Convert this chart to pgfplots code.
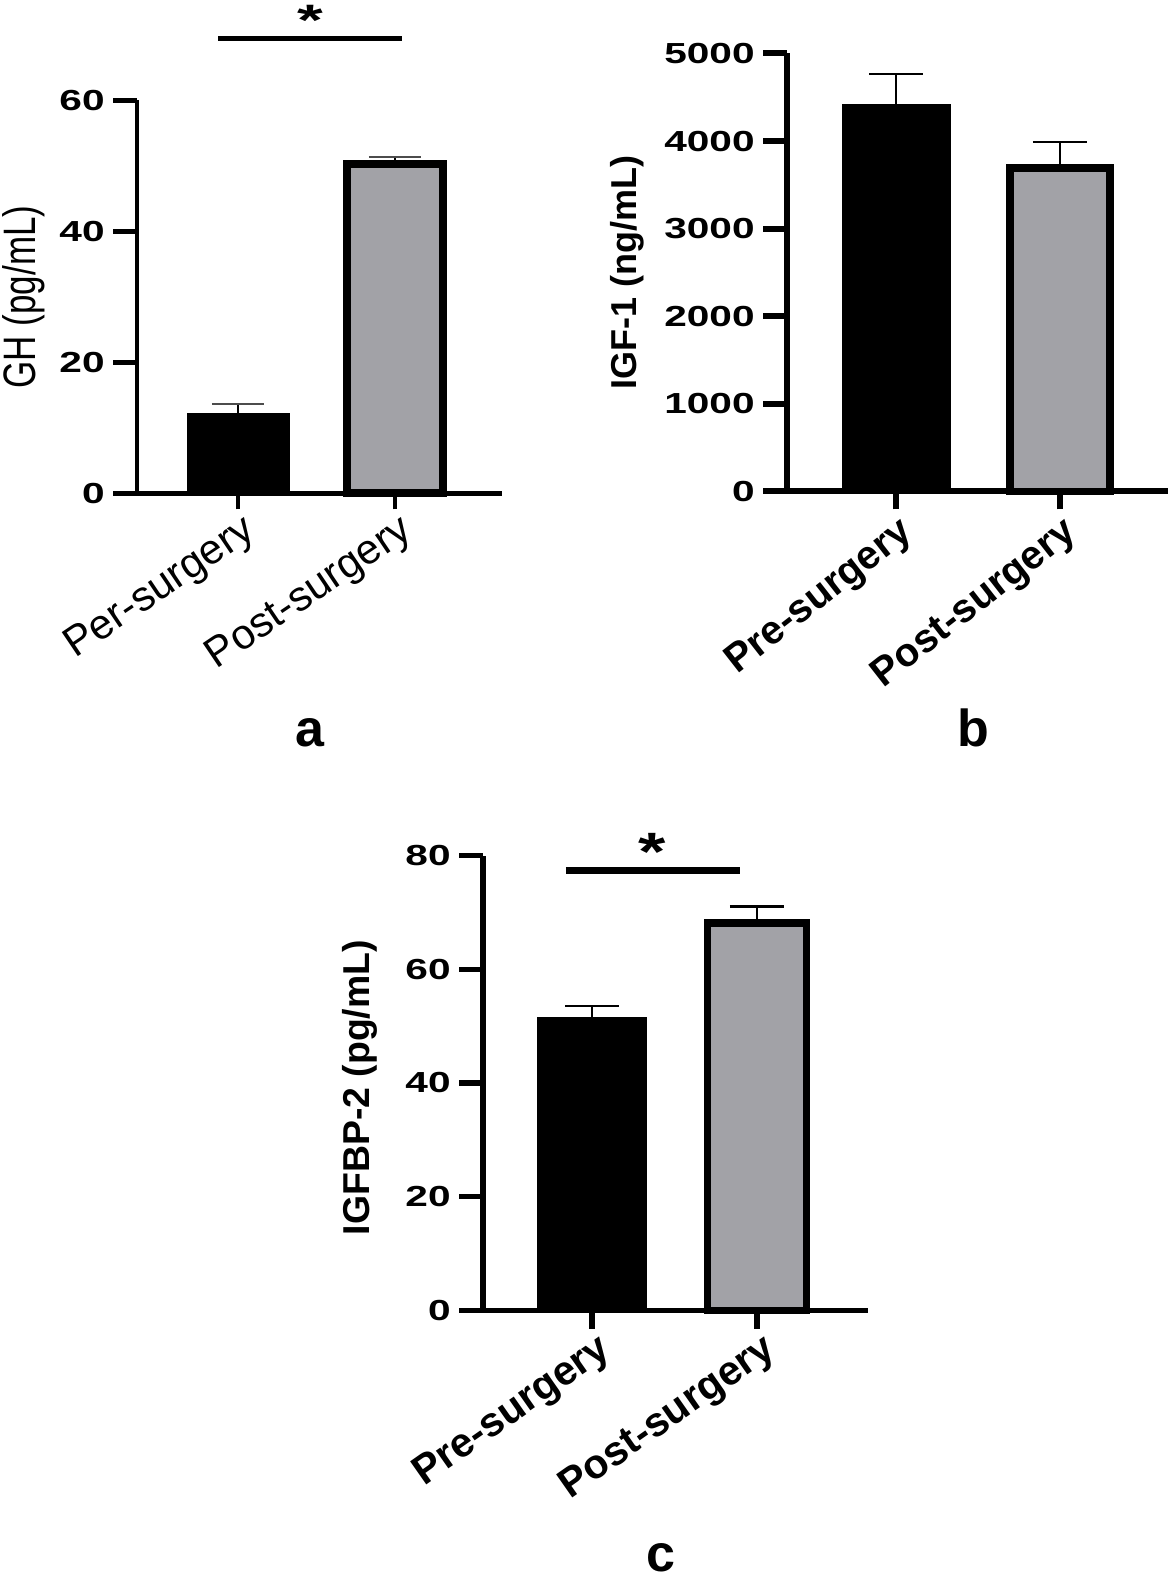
\documentclass[border=0pt]{standalone}
\usepackage{fontspec}
\setmainfont{Liberation Sans}
\newfontfamily\stretchfont[FakeStretch=1.4]{Liberation Sans}
\usepackage{graphicx}
\usepackage{pgfplots}
\pgfplotsset{compat=1.18}
\definecolor{bargray}{RGB}{162,162,167}

\pgfplotsset{
  panel/.style={
    scale only axis,
    anchor=south west,
    axis x line*=bottom,
    axis y line*=left,
    tick align=outside,
    xtick={0,1},
    ybar,
    bar shift=0pt,
    clip=false,
    ymin=0,
    scaled y ticks=false,
    /pgf/number format/1000 sep={},
    /pgf/number format/assume math mode=true,
    yticklabel style={font=\fontsize{14.5}{14.5}\stretchfont\bfseries, inner sep=1pt, xshift=-3pt},
    major tick length=12pt,
    xtick style={/pgfplots/major tick length=9pt},
    every axis y label/.append style={anchor=center},
  },
}

\begin{document}
\begin{tikzpicture}
\path[use as bounding box] (0,0) rectangle (586.5pt,789.5pt);

% ---------------- panel a ----------------
\begin{axis}[panel,
  at={(68.5pt,542.75pt)},
  width=182.5pt, height=196.5pt,
  xmin=-0.643, xmax=1.682, ymax=60,
  ytick={0,20,40,60},
  xticklabels={Per-surgery,Post-surgery},
  xticklabel style={font=\fontsize{21}{21}\selectfont, rotate=34, anchor=east, inner sep=2pt, xshift=5pt, yshift=-8pt},
  axis line style={line width=2.2pt},
  tick style={line width=2.2pt, black},
  xtick style={/pgfplots/major tick length=8pt},
  ylabel={\scalebox{1}[1.3]{GH (pg/mL)}},
  ylabel style={font=\fontsize{17.5}{17.5}\selectfont, at={(axis description cs:-0.31,0.5)}},
]
\addplot[fill=black, draw=black, line width=0.4pt, bar width=0.65,
  error bars/.cd, y dir=plus, y explicit,
  error bar style={line width=1.1pt, black},
  error mark options={rotate=90, line width=1.1pt, mark size=13pt, black!70}]
  coordinates {(0,12.3) +- (0,1.35)};
\addplot[fill=bargray, draw=black, line width=4pt, bar width=0.611,
  error bars/.cd, y dir=plus, y explicit,
  error bar style={line width=1.1pt, black},
  error mark options={rotate=90, line width=1.1pt, mark size=13pt, black!70}]
  coordinates {(1,50.25) +- (0,1.1)};
\draw[line width=2.5pt] (axis cs:-0.127,69.4) -- (axis cs:1.045,69.4);
\node[anchor=base, inner sep=0pt, font=\fontsize{22}{22}\selectfont\bfseries] at (axis cs:0.459,69.85) {\scalebox{1.5}[1]{*}};
\end{axis}

% ---------------- panel b ----------------
\begin{axis}[panel,
  at={(393.5pt,543.75pt)},
  width=190.5pt, height=219pt,
  xmin=-0.665, xmax=1.659, ymax=5000,
  ytick={0,1000,2000,3000,4000,5000},
  xticklabels={Pre-surgery,Post-surgery},
  xticklabel style={font=\fontsize{20}{20}\selectfont\bfseries, rotate=38, anchor=east, inner sep=2pt, xshift=3pt, yshift=-9pt},
  axis line style={line width=3pt},
  tick style={line width=3pt, black},
  ylabel={IGF-1 (ng/mL)},
  ylabel style={font=\fontsize{18}{18}\selectfont\bfseries, at={(axis description cs:-0.42,0.5)}},
]
\addplot[fill=black, draw=black, line width=0.4pt, bar width=0.659,
  error bars/.cd, y dir=plus, y explicit,
  error bar style={line width=1.2pt, black},
  error mark options={rotate=90, line width=1.2pt, mark size=13.5pt, black}]
  coordinates {(0,4421) +- (0,342)};
\addplot[fill=bargray, draw=black, line width=3.75pt, bar width=0.61,
  error bars/.cd, y dir=plus, y explicit,
  error bar style={line width=1.2pt, black},
  error mark options={rotate=90, line width=1.2pt, mark size=13.5pt, black}]
  coordinates {(1,3691) +- (0,300)};
\end{axis}

% ---------------- panel c ----------------
\begin{axis}[panel,
  at={(241.5pt,134.25pt)},
  width=192.5pt, height=227.5pt,
  xmin=-0.661, xmax=1.673, ymax=80,
  ytick={0,20,40,60,80},
  xticklabels={Pre-surgery,Post-surgery},
  xticklabel style={font=\fontsize{20.5}{20.5}\selectfont\bfseries, rotate=35, anchor=east, inner sep=2pt, xshift=5pt, yshift=-9pt},
  axis line style={line width=2.6pt},
  tick style={line width=2.6pt, black},
  ylabel={IGFBP-2 (pg/mL)},
  ylabel style={font=\fontsize{18.7}{18.7}\selectfont\bfseries, at={(axis description cs:-0.32,0.49)}},
]
\addplot[fill=black, draw=black, line width=0.4pt, bar width=0.66,
  error bars/.cd, y dir=plus, y explicit,
  error bar style={line width=1.2pt, black},
  error mark options={rotate=90, line width=1.2pt, mark size=13.5pt, black}]
  coordinates {(0,51.6) +- (0,1.9)};
\addplot[fill=bargray, draw=black, line width=3.75pt, bar width=0.6,
  error bars/.cd, y dir=plus, y explicit,
  error bar style={line width=1.2pt, black},
  error mark options={rotate=90, line width=1.2pt, mark size=13.5pt, black}]
  coordinates {(1,68.1) +- (0,2.9)};
\draw[line width=3.4pt] (axis cs:-0.158,77.4) -- (axis cs:0.897,77.4);
\node[anchor=base, inner sep=0pt, font=\fontsize{27}{27}\selectfont\bfseries] at (axis cs:0.364,77.4) {\scalebox{1.3}[1]{*}};
\end{axis}

% panel letters
\node[anchor=base, inner sep=0pt, font=\fontsize{26}{26}\selectfont\bfseries] at (155pt,416pt) {a};
\node[anchor=base, inner sep=0pt, font=\fontsize{26}{26}\selectfont\bfseries] at (486.5pt,416pt) {b};
\node[anchor=base, inner sep=0pt, font=\fontsize{26}{26}\selectfont\bfseries] at (330.5pt,4pt) {c};
\end{tikzpicture}
\end{document}
